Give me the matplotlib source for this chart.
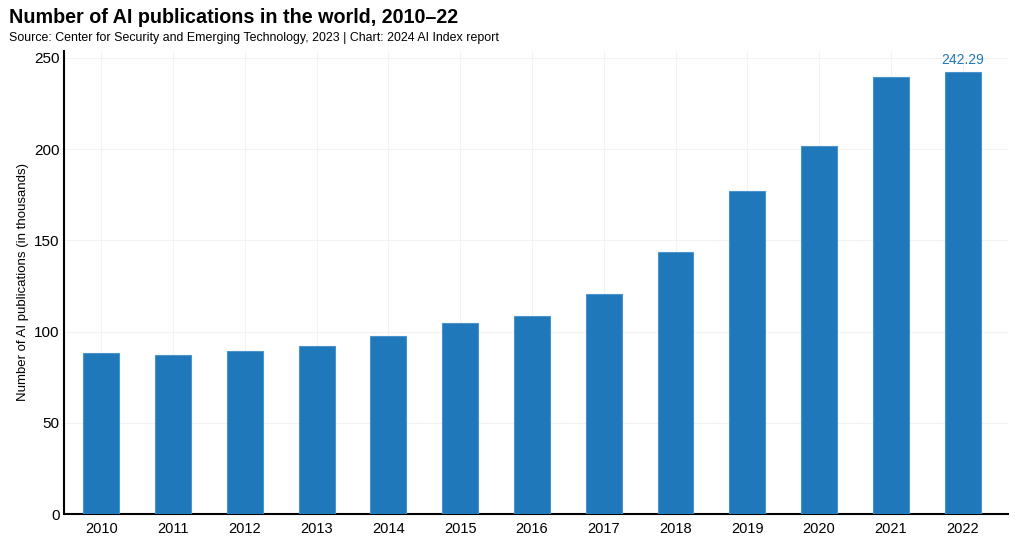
import matplotlib
matplotlib.use("Agg")
import matplotlib.pyplot as plt
import numpy as np

plt.rcParams['font.family'] = ['Liberation Sans', 'DejaVu Sans']

anios = ["2010", "2011", "2012", "2013", "2014", "2015", "2016",
         "2017", "2018", "2019", "2020", "2021", "2022"]
publicaciones = [88.3, 87.2, 89.4, 92.1, 97.6, 104.7, 108.6,
                 120.6, 143.6, 177.1, 201.8, 239.6, 242.29]
yticks = [0, 50, 100, 150, 200, 250]

colorBarra = "#1f78b9"

fig = plt.figure(figsize=(10.16, 5.44), dpi=100)
ax = fig.add_axes([0.063, 0.055, 0.929, 0.852])

x = np.arange(len(anios))
ax.bar(x, publicaciones, width=0.5, color=colorBarra, edgecolor="#4a93cc", linewidth=0.8, zorder=3)

# etiqueta solo en el ultimo valor
ax.text(x[-1], publicaciones[-1] + 2.5, f"{publicaciones[-1]:.2f}", ha="center", va="bottom",
        color="#1f78b9", fontsize=10)

ax.set_xlim(-0.52, 12.63)
ax.set_ylim(0, 254)
ax.set_xticks(x)
ax.set_xticklabels(anios, fontsize=10.5)
ax.set_yticks(yticks)
ax.tick_params(axis="y", labelsize=11, length=0, pad=3)
ax.tick_params(axis="x", length=0, pad=6)
ax.grid(True, color="#f2f2f2", linewidth=0.8, zorder=0)
ax.set_axisbelow(True)
for s in ["top", "right"]:
    ax.spines[s].set_visible(False)
ax.spines["left"].set_linewidth(1.5)
ax.spines["bottom"].set_linewidth(1.5)
ax.set_ylabel("Number of AI publications (in thousands)", fontsize=9.5, labelpad=4)

fig.text(0.009, 0.958, "Number of AI publications in the world, 2010\u201322", fontsize=14.2,
         fontweight="bold", ha="left", va="baseline")
fig.text(0.009, 0.924, "Source: Center for Security and Emerging Technology, 2023 | Chart: 2024 AI Index report",
         fontsize=8.9, ha="left", va="baseline")

fig.savefig("out.png", dpi=100)
